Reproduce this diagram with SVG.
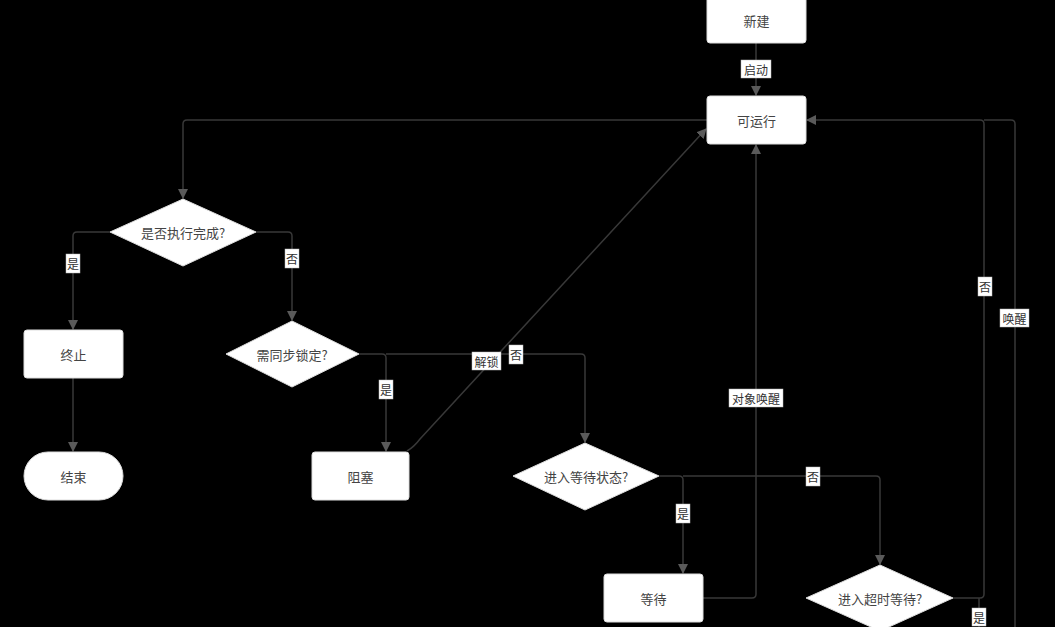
<svg xmlns="http://www.w3.org/2000/svg" width="1055" height="627" viewBox="0 0 1055 627">
<defs>
<style>
.box{fill:#fff;stroke:#ddd;stroke-width:1}
.nt{font-family:"Noto Sans CJK SC","Noto Sans",sans-serif;font-size:13px;fill:#444;text-anchor:middle;dominant-baseline:central}
.lt{font-family:"Noto Sans CJK SC","Noto Sans",sans-serif;font-size:12px;fill:#333;text-anchor:middle;dominant-baseline:central}
.lb{fill:#fff;stroke:#bbb;stroke-width:0.5}
.ln{fill:none;stroke:#383838;stroke-width:1.5}
</style>
<marker id="ar" markerWidth="10" markerHeight="10" refX="9" refY="5" orient="auto" markerUnits="userSpaceOnUse">
<path d="M0,0 L10,5 L0,10 Z" fill="#5a5a5a"/>
</marker>
</defs>
<rect width="1055" height="627" fill="#000"/>
<g id="connectors">
<path class="ln" d="M756,43 V95" marker-end="url(#ar)"/>
<path class="ln" d="M707,120 H187 Q183,120 183,124 V198" marker-end="url(#ar)"/>
<path class="ln" d="M110,232 H77 Q73,232 73,236 V329" marker-end="url(#ar)"/>
<path class="ln" d="M256,232 H288 Q292,232 292,236 V320" marker-end="url(#ar)"/>
<path class="ln" d="M73,378 V451" marker-end="url(#ar)"/>
<path class="ln" d="M359,354 H382 Q386,354 386,358 V451" marker-end="url(#ar)"/>
<path class="ln" d="M386,354 H581 Q585,354 585,358 V442" marker-end="url(#ar)"/>
<path class="ln" d="M407,451 Q414,447 420,439 L706,129" marker-end="url(#ar)"/>
<path class="ln" d="M659,476 H679 Q683,476 683,480 V573" marker-end="url(#ar)"/>
<path class="ln" d="M683,476 H876 Q880,476 880,480 V564" marker-end="url(#ar)"/>
<path class="ln" d="M703,598 H752 Q756,598 756,594 V145" marker-end="url(#ar)"/>
<path class="ln" d="M953,598 H980 Q984,598 984,594 V124 Q984,120 980,120 H807" marker-end="url(#ar)"/>
<path class="ln" d="M979,598 V627"/>
<path class="ln" d="M1015,627 V124 Q1015,120 1011,120 H984"/>
</g>
<g id="edge-labels">
<rect class="lb" x="741" y="60" width="30" height="18"/><text class="lt" x="756" y="69">启动</text>
<rect class="lb" x="66" y="254" width="14" height="19"/><text class="lt" x="73" y="263">是</text>
<rect class="lb" x="285" y="249" width="14" height="19"/><text class="lt" x="292" y="258">否</text>
<rect class="lb" x="379" y="380" width="14" height="19"/><text class="lt" x="386" y="389">是</text>
<rect class="lb" x="472" y="352" width="29" height="18"/><text class="lt" x="486.5" y="361">解锁</text>
<rect class="lb" x="509" y="345" width="14" height="19"/><text class="lt" x="516" y="354">否</text>
<rect class="lb" x="676" y="504" width="14" height="19"/><text class="lt" x="683" y="513">是</text>
<rect class="lb" x="806" y="467" width="14" height="19"/><text class="lt" x="813" y="476">否</text>
<rect class="lb" x="729" y="389" width="54" height="18"/><text class="lt" x="756" y="398">对象唤醒</text>
<rect class="lb" x="978" y="277" width="14" height="19"/><text class="lt" x="985" y="286">否</text>
<rect class="lb" x="1000" y="309" width="29" height="18"/><text class="lt" x="1014.5" y="318">唤醒</text>
<rect class="lb" x="972" y="608" width="14" height="18"/><text class="lt" x="979" y="617">是</text>
</g>
<g id="n-xinjian"><rect class="box" x="707" y="-5" width="99" height="48" rx="3"/><text class="nt" x="756.5" y="20">新建</text></g>
<g id="n-keyunxing"><rect class="box" x="707" y="96" width="99" height="48" rx="3"/><text class="nt" x="756.5" y="120">可运行</text></g>
<g id="n-wancheng"><polygon class="box" points="183,199 256,232 183,266 110,232"/><text class="nt" x="183" y="232">是否执行完成?</text></g>
<g id="n-zhongzhi"><rect class="box" x="24" y="330" width="99" height="48" rx="3"/><text class="nt" x="73.5" y="354">终止</text></g>
<g id="n-jieshu"><rect class="box" x="24" y="452" width="99" height="48" rx="24"/><text class="nt" x="73.5" y="476">结束</text></g>
<g id="n-tongbu"><polygon class="box" points="292,321 359,354 292,387 226,354"/><text class="nt" x="292" y="354">需同步锁定?</text></g>
<g id="n-zusai"><rect class="box" x="312" y="452" width="97" height="48" rx="3"/><text class="nt" x="360.5" y="476">阻塞</text></g>
<g id="n-dengdaizt"><polygon class="box" points="585,443 659,476 585,510 513,476"/><text class="nt" x="586" y="476">进入等待状态?</text></g>
<g id="n-dengdai"><rect class="box" x="604" y="574" width="99" height="48" rx="3"/><text class="nt" x="653.5" y="598">等待</text></g>
<g id="n-chaoshi"><polygon class="box" points="880,565 953,598 880,631 806,598"/><text class="nt" x="880" y="598">进入超时等待?</text></g>
</svg>
